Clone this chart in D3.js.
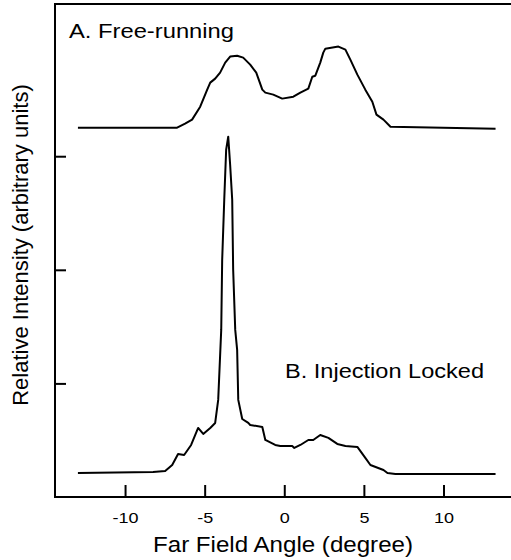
<!DOCTYPE html>
<html>
<head>
<meta charset="utf-8">
<script src="https://cdn.jsdelivr.net/npm/d3@7"></script>
<style>
  body { margin: 0; background: #fff; }
  text { font-family: "Liberation Sans", Arial, Helvetica, sans-serif; fill: #000; }
</style>
</head>
<body>
<script>
// far field angle (deg) vs intensity (arb.)
var freeAngle = [-12.96, -6.73, -6.23, -5.79, -5.28, -4.84, -4.65, -4.34, -4.03, -3.71, -3.40, -2.96, -2.58, -2.14, -1.76, -1.38, -1.19, -0.69, -0.13, 0.57, 1.01, 1.51, 1.76, 1.95, 2.26, 2.45, 2.58, 3.40, 3.84, 4.15, 4.59, 5.09, 5.53, 5.79, 6.23, 6.67, 13.27];
var freeValue = [3.251, 3.251, 3.286, 3.322, 3.436, 3.586, 3.648, 3.683, 3.736, 3.824, 3.877, 3.885, 3.868, 3.806, 3.736, 3.586, 3.560, 3.542, 3.507, 3.524, 3.560, 3.595, 3.700, 3.709, 3.824, 3.912, 3.947, 3.965, 3.938, 3.850, 3.718, 3.586, 3.480, 3.366, 3.322, 3.260, 3.242];

var lockAngle = [-12.96, -8.24, -7.48, -7.04, -6.67, -6.29, -5.85, -5.41, -5.09, -4.65, -4.34, -4.15, -3.96, -3.90, -3.77, -3.65, -3.52, -3.40, -3.27, -3.21, -3.08, -2.96, -2.89, -2.64, -2.26, -2.14, -1.38, -1.19, -0.57, -0.25, 0.50, 0.63, 1.01, 1.51, 1.82, 2.26, 2.77, 3.33, 3.84, 4.59, 5.09, 5.41, 6.23, 6.48, 6.98, 13.27];
var lockValue = [0.211, 0.220, 0.229, 0.282, 0.379, 0.370, 0.458, 0.608, 0.555, 0.608, 0.652, 0.855, 1.471, 2.088, 2.617, 3.057, 3.172, 2.925, 2.617, 2.000, 1.471, 1.295, 0.855, 0.687, 0.652, 0.634, 0.617, 0.502, 0.458, 0.449, 0.449, 0.432, 0.458, 0.502, 0.502, 0.546, 0.520, 0.467, 0.449, 0.441, 0.344, 0.282, 0.238, 0.211, 0.203, 0.203];

var xTicks = [-10, -5, 0, 5, 10];
var yTicks = [1, 2, 3];

var w = 511, h = 560;
var plotLeft = 55, plotRight = 511, plotTop = 4, plotBottom = 497;

var svg = d3.select("body").append("svg")
  .attr("width", w)
  .attr("height", h);

var x = d3.scaleLinear().domain([-14.4, 14.24]).range([plotLeft, plotRight]);
var y = d3.scaleLinear().domain([0, 4.34]).range([plotBottom, plotTop]);

// frame: left, top and bottom lines
svg.append("path")
  .attr("d", "M" + plotRight + "," + plotTop + "H" + plotLeft + "V" + plotBottom + "H" + plotRight)
  .attr("fill", "none")
  .attr("stroke", "#000")
  .attr("stroke-width", 2);

// x axis, ticks pointing inward, plain hyphen minus
var xAxis = svg.append("g")
  .attr("transform", "translate(0," + plotBottom + ")")
  .call(d3.axisBottom(x).tickValues(xTicks).tickSizeInner(-12).tickSizeOuter(0).tickPadding(0)
    .tickFormat(function(d) { return String(d); }));
xAxis.select(".domain").remove();
xAxis.selectAll(".tick line").attr("stroke-width", 2);
xAxis.selectAll(".tick text")
  .attr("y", 26)
  .attr("dy", null)
  .attr("font-size", 15)
  .attr("font-family", null)
  .attr("transform", "scale(1.2,1)");

// y axis, no labels
var yAxis = svg.append("g")
  .attr("transform", "translate(" + plotLeft + ",0)")
  .call(d3.axisLeft(y).tickValues(yTicks).tickSizeInner(-11).tickSizeOuter(0).tickFormat(""));
yAxis.select(".domain").remove();
yAxis.selectAll(".tick line").attr("stroke-width", 2);

var line = d3.line()
  .x(function(d) { return x(d[0]); })
  .y(function(d) { return y(d[1]); });

var freeData = d3.zip(freeAngle, freeValue);
var lockData = d3.zip(lockAngle, lockValue);

svg.append("path")
  .datum(freeData)
  .attr("d", line)
  .attr("fill", "none")
  .attr("stroke", "#000")
  .attr("stroke-width", 2)
  .attr("stroke-linejoin", "round");

svg.append("path")
  .datum(lockData)
  .attr("d", line)
  .attr("fill", "none")
  .attr("stroke", "#000")
  .attr("stroke-width", 2)
  .attr("stroke-linejoin", "round");

// curve labels
svg.append("text")
  .attr("x", 69)
  .attr("y", 38)
  .attr("font-size", 20)
  .attr("textLength", 165)
  .attr("lengthAdjust", "spacingAndGlyphs")
  .text("A. Free-running");

svg.append("text")
  .attr("x", 285)
  .attr("y", 378)
  .attr("font-size", 20)
  .attr("textLength", 199)
  .attr("lengthAdjust", "spacingAndGlyphs")
  .text("B. Injection Locked");

// axis titles
svg.append("text")
  .attr("x", 153)
  .attr("y", 552)
  .attr("font-size", 22)
  .attr("textLength", 260)
  .attr("lengthAdjust", "spacingAndGlyphs")
  .text("Far Field Angle (degree)");

svg.append("text")
  .attr("transform", "translate(28,245) rotate(-90)")
  .attr("text-anchor", "middle")
  .attr("font-size", 22)
  .text("Relative Intensity (arbitrary units)");
</script>
</body>
</html>
